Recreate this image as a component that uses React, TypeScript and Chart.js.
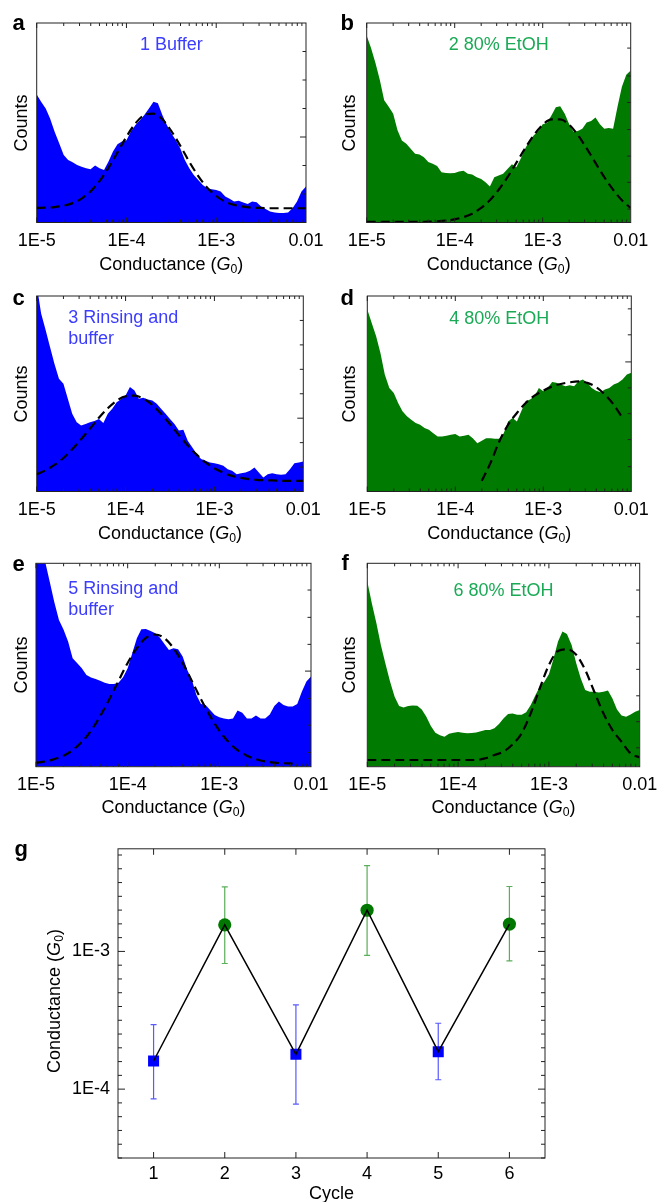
import React, { useEffect, useRef } from 'react';
import { Chart, registerables } from 'chart.js';

Chart.register(...registerables);

const FONT = '"Liberation Sans", Arial, Helvetica, sans-serif';
Chart.defaults.font.family = FONT;
Chart.defaults.color = '#000';

// ---------- DATA ----------
// conductance grid of the histograms (G0)
const histConductance = [
  1.00e-5, 1.12e-5, 1.26e-5, 1.41e-5, 1.58e-5, 1.78e-5, 2.00e-5, 2.24e-5, 2.51e-5, 2.82e-5,
  3.16e-5, 3.55e-5, 3.98e-5, 4.47e-5, 5.01e-5, 5.62e-5, 6.31e-5, 7.08e-5, 7.94e-5, 8.91e-5,
  1.00e-4, 1.12e-4, 1.26e-4, 1.41e-4, 1.58e-4, 1.78e-4, 2.00e-4, 2.24e-4, 2.51e-4, 2.82e-4,
  3.16e-4, 3.55e-4, 3.98e-4, 4.47e-4, 5.01e-4, 5.62e-4, 6.31e-4, 7.08e-4, 7.94e-4, 8.91e-4,
  1.00e-3, 1.12e-3, 1.26e-3, 1.41e-3, 1.58e-3, 1.78e-3, 2.00e-3, 2.24e-3, 2.51e-3, 2.82e-3,
  3.16e-3, 3.55e-3, 3.98e-3, 4.47e-3, 5.01e-3, 5.62e-3, 6.31e-3, 7.08e-3, 7.94e-3, 8.91e-3,
  1.00e-2,
];
// conductance grid of the Gaussian fits (G0)
const fitConductance = [
  1.00e-5, 1.26e-5, 1.58e-5, 2.00e-5, 2.51e-5, 3.16e-5, 3.98e-5, 5.01e-5, 6.31e-5, 7.94e-5,
  1.00e-4, 1.26e-4, 1.58e-4, 2.00e-4, 2.51e-4, 3.16e-4, 3.98e-4, 5.01e-4, 6.31e-4, 7.94e-4,
  1.00e-3, 1.26e-3, 1.58e-3, 2.00e-3, 2.51e-3, 3.16e-3, 3.98e-3, 5.01e-3, 6.31e-3, 7.94e-3,
  1.00e-2,
];

// counts (arbitrary units)
const countsA = [4.49, 4.24, 4.0, 3.65, 3.19, 2.78, 2.37, 2.19, 2.11, 2.02, 1.96, 1.90, 1.87, 2.0, 1.90, 1.84, 2.14, 2.49, 2.75, 2.84, 2.89, 3.19, 3.42, 3.59, 3.77, 4.0, 4.24, 4.18, 3.77, 3.42, 3.13, 2.89, 2.60, 2.19, 1.90, 1.67, 1.49, 1.32, 1.20, 1.17, 1.14, 1.09, 0.91, 0.83, 0.74, 0.76, 0.70, 0.65, 0.74, 0.71, 0.56, 0.47, 0.39, 0.35, 0.33, 0.33, 0.35, 0.50, 0.74, 1.09, 1.26];
const countsB = [6.55, 6.12, 5.59, 5.0, 4.29, 4.06, 3.82, 3.24, 2.88, 2.76, 2.59, 2.41, 2.39, 2.29, 2.12, 2.06, 1.98, 1.76, 1.74, 1.73, 1.74, 1.79, 1.82, 1.71, 1.68, 1.59, 1.53, 1.41, 1.26, 1.59, 1.65, 1.71, 1.88, 2.04, 1.94, 2.24, 2.59, 2.88, 3.06, 3.21, 3.45, 3.49, 3.76, 4.04, 4.08, 3.82, 3.45, 3.18, 3.21, 3.29, 3.51, 3.56, 3.68, 3.45, 3.29, 3.32, 3.29, 4.06, 4.76, 5.18, 5.33];
const countsC = [7.4, 6.38, 5.78, 5.18, 4.58, 4.04, 3.86, 3.32, 2.78, 2.48, 2.36, 2.42, 2.48, 2.52, 2.60, 2.45, 2.78, 2.96, 3.20, 3.30, 3.44, 3.74, 3.62, 3.32, 3.36, 3.29, 3.26, 3.14, 2.96, 2.78, 2.60, 2.42, 2.18, 2.21, 1.82, 1.58, 1.34, 1.16, 1.10, 1.04, 1.01, 0.98, 0.92, 0.80, 0.74, 0.62, 0.65, 0.68, 0.74, 0.86, 0.68, 0.50, 0.62, 0.65, 0.62, 0.60, 0.62, 0.80, 1.01, 1.04, 1.07];
const countsD = [6.52, 6.04, 5.56, 4.96, 4.19, 3.71, 3.53, 3.17, 2.87, 2.69, 2.57, 2.45, 2.39, 2.27, 2.21, 2.09, 1.97, 1.97, 2.0, 2.03, 2.06, 1.97, 2.0, 2.03, 1.91, 1.73, 1.82, 1.91, 1.91, 1.89, 1.89, 2.09, 2.51, 2.63, 2.51, 2.87, 3.23, 3.29, 3.41, 3.71, 3.59, 3.71, 3.92, 3.89, 3.83, 3.77, 3.80, 3.77, 3.95, 4.01, 3.89, 3.71, 3.61, 3.55, 3.65, 3.71, 3.83, 3.89, 4.01, 4.19, 4.25];
const countsE = [7.4, 7.3, 7.05, 6.37, 5.68, 5.05, 4.71, 4.31, 3.73, 3.56, 3.39, 3.16, 3.07, 3.02, 2.96, 2.89, 2.85, 2.85, 2.89, 3.08, 3.39, 3.90, 4.42, 4.73, 4.74, 4.67, 4.59, 4.45, 4.23, 4.02, 4.08, 4.04, 3.79, 3.33, 2.99, 2.47, 2.16, 2.12, 1.95, 1.78, 1.70, 1.66, 1.63, 1.66, 1.93, 1.86, 1.66, 1.66, 1.76, 1.66, 1.66, 1.80, 2.09, 2.24, 2.12, 2.07, 2.07, 2.16, 2.58, 2.93, 3.10];
const countsF = [6.37, 5.63, 4.94, 4.19, 3.56, 2.93, 2.41, 2.09, 2.04, 2.09, 2.11, 2.10, 1.97, 1.72, 1.40, 1.17, 1.08, 1.03, 1.13, 1.17, 1.19, 1.17, 1.15, 1.16, 1.18, 1.22, 1.26, 1.26, 1.32, 1.47, 1.66, 1.81, 1.83, 1.79, 1.79, 1.87, 2.12, 2.45, 2.76, 2.92, 3.18, 3.70, 4.31, 4.65, 4.57, 4.19, 3.56, 3.04, 2.64, 2.58, 2.58, 2.55, 2.58, 2.62, 2.35, 1.97, 1.76, 1.72, 1.80, 1.89, 1.95];

// Gaussian fits (dashed)
const fitA = [0.51, 0.52, 0.54, 0.59, 0.68, 0.84, 1.09, 1.45, 1.92, 2.46, 3.01, 3.48, 3.77, 3.82, 3.62, 3.21, 2.69, 2.13, 1.63, 1.22, 0.93, 0.73, 0.62, 0.56, 0.52, 0.51, 0.50, 0.50, 0.50, 0.50, 0.50];
const fitB = [0.02, 0.02, 0.02, 0.02, 0.02, 0.02, 0.02, 0.03, 0.04, 0.07, 0.11, 0.19, 0.31, 0.51, 0.78, 1.15, 1.59, 2.09, 2.60, 3.07, 3.43, 3.62, 3.62, 3.43, 3.07, 2.60, 2.09, 1.59, 1.15, 0.78, 0.51];
const fitC = [0.62, 0.76, 0.95, 1.20, 1.51, 1.87, 2.25, 2.64, 2.98, 3.25, 3.41, 3.43, 3.33, 3.10, 2.78, 2.41, 2.02, 1.65, 1.32, 1.04, 0.83, 0.67, 0.56, 0.49, 0.44, 0.41, 0.40, 0.39, 0.38, 0.38, 0.38];
const fitD = [null, null, null, null, null, null, null, null, null, null, null, null, null, 0.38, 1.02, 1.79, 2.39, 2.81, 3.17, 3.43, 3.61, 3.76, 3.85, 3.91, 3.94, 3.89, 3.74, 3.47, 3.11, 2.63, null];
const fitE = [0.14, 0.18, 0.26, 0.38, 0.57, 0.85, 1.24, 1.74, 2.32, 2.95, 3.57, 4.08, 4.43, 4.55, 4.43, 4.08, 3.57, 2.95, 2.32, 1.74, 1.24, 0.85, 0.57, 0.38, 0.26, 0.18, 0.14, 0.12, 0.11, null, null];
const fitF = [0.23, 0.23, 0.23, 0.23, 0.23, 0.23, 0.23, 0.23, 0.23, 0.23, 0.23, 0.23, 0.23, 0.29, 0.40, 0.52, 0.77, 1.15, 1.84, 2.70, 3.50, 3.98, 4.04, 3.85, 3.33, 2.58, 1.84, 1.26, 0.86, 0.46, 0.32];

const xTickValues = [1e-5, 1e-4, 1e-3, 1e-2];
const xTickLabels = ['1E-5', '1E-4', '1E-3', '0.01'];

// right-axis tick positions (counts units)
const rightTicksA = [1, 2, 3, 4, 5, 6];
const rightTicksB = [0.47, 1.41, 2.33, 3.26, 4.21, 5.14, 6.12];
const rightTicksC = [0.875, 1.75, 2.625, 3.5, 4.375, 5.25, 6.125];
const rightTicksD = [0.89, 1.86, 2.79, 3.71, 4.64, 5.61, 6.54];
const rightTicksE = [0.49, 1.43, 2.35, 3.29, 4.21, 5.14, 6.08];
const rightTicksF = [0.65, 1.55, 2.44, 3.35, 4.25, 5.16, 6.08];

// panel g
const cycles = [1, 2, 3, 4, 5, 6];
const cycleLabels = ['1', '2', '3', '4', '5', '6'];
const solution = ['buffer', 'EtOH', 'buffer', 'EtOH', 'buffer', 'EtOH'];
const meanConductance = [1.6e-4, 1.56e-3, 1.79e-4, 1.99e-3, 1.87e-4, 1.58e-3];
const upperConductance = [2.94e-4, 2.94e-3, 4.09e-4, 4.2e-3, 3.01e-4, 2.96e-3];
const lowerConductance = [8.5e-5, 8.17e-4, 7.78e-5, 9.36e-4, 1.17e-4, 8.53e-4];
const gTickValues = [1e-4, 1e-3];
const gTickLabels = ['1E-4', '1E-3'];

// ---------- STYLE ----------
const BLUE = '#0000ff';
const GREEN = '#007a00';
const BLUE_TXT = '#3c3cff';
const GREEN_TXT = '#1aaa55';

const pts = (xs: number[], ys: (number | null)[]) => xs.map((x, i) => ({ x, y: ys[i] }));

function histFrame(rightTicks: number[], major: number | null) {
  return {
    id: 'histFrame',
    afterDatasetsDraw(chart: any) {
      const { ctx, chartArea: a, scales } = chart;
      const x = scales.x, y = scales.y;
      ctx.save();
      ctx.strokeStyle = '#222';
      ctx.lineWidth = 1;
      ctx.strokeRect(a.left, a.top, a.right - a.left, a.bottom - a.top);
      ctx.beginPath();
      for (const dec of [1e-5, 1e-4, 1e-3]) {
        for (let m = 1; m <= 9; m++) {
          const px = x.getPixelForValue(m * dec);
          const len = m === 1 ? 5 : 3;
          ctx.moveTo(px, a.top); ctx.lineTo(px, a.top + len);
          ctx.moveTo(px, a.bottom); ctx.lineTo(px, a.bottom - len);
        }
      }
      rightTicks.forEach((v) => {
        const py = y.getPixelForValue(v);
        const len = v === major ? 6 : 3.5;
        ctx.moveTo(a.right, py); ctx.lineTo(a.right - len, py);
      });
      ctx.stroke();
      ctx.restore();
    },
  };
}

type Geo = { left: number; top: number; width: number; height: number; area: { left: number; top: number; right: number; bottom: number } };

function Histogram({ geo, counts, fit, color, rightTicks, major }: { geo: Geo; counts: number[]; fit: (number | null)[]; color: string; rightTicks: number[]; major: number | null }) {
  const ref = useRef<HTMLCanvasElement>(null);
  useEffect(() => {
    const a = geo.area;
    const chart = new Chart(ref.current as HTMLCanvasElement, {
      type: 'line',
      data: {
        datasets: [
          { data: pts(histConductance, counts), fill: 'origin', backgroundColor: color, borderWidth: 0, pointRadius: 0, tension: 0, order: 1 } as any,
          { data: pts(fitConductance, fit), fill: false, borderColor: '#000', borderWidth: 2.2, borderDash: [9, 5], pointRadius: 0, cubicInterpolationMode: 'monotone', spanGaps: false, order: 0 } as any,
        ],
      },
      options: {
        responsive: false,
        maintainAspectRatio: false,
        animation: false,
        devicePixelRatio: 1,
        events: [],
        layout: { padding: { left: a.left - geo.left, top: a.top - geo.top, right: geo.left + geo.width - a.right, bottom: 0 } },
        plugins: { legend: { display: false }, tooltip: { enabled: false } },
        scales: {
          x: {
            type: 'logarithmic',
            min: 1e-5,
            max: 1e-2,
            grid: { display: false, drawTicks: false },
            border: { display: false },
            afterBuildTicks: (s: any) => { s.ticks = xTickValues.map((v) => ({ value: v })); },
            afterFit: (s: any) => { s.height = geo.top + geo.height - a.bottom; },
            ticks: { autoSkip: false, maxRotation: 0, minRotation: 0, padding: 8, font: { size: 18 }, color: '#000', callback: (_v: any, i: number) => xTickLabels[i] },
          },
          y: { type: 'linear', min: 0, max: 7, display: false },
        },
      } as any,
      plugins: [histFrame(rightTicks, major)],
    });
    return () => chart.destroy();
  }, []);
  return <canvas ref={ref} width={geo.width} height={geo.height} style={{ position: 'absolute', left: geo.left, top: geo.top, width: geo.width, height: geo.height }} />;
}

function CycleChart() {
  const ref = useRef<HTMLCanvasElement>(null);
  const geo = { left: 0, top: 830, width: 658, height: 372, area: { left: 118, top: 844, right: 545, bottom: 1158 } };
  useEffect(() => {
    const a = geo.area;
    const isBuffer = solution.map((s) => s === 'buffer');
    const errPlugin = {
      id: 'errbars',
      beforeDatasetsDraw(chart: any) {
        const { ctx, scales } = chart;
        ctx.save();
        ctx.lineWidth = 1.2;
        cycles.forEach((c, i) => {
          const px = scales.x.getPixelForValue(c);
          const yu = scales.y.getPixelForValue(upperConductance[i]);
          const yl = scales.y.getPixelForValue(lowerConductance[i]);
          ctx.strokeStyle = isBuffer[i] ? '#5a5aff' : '#5aae5a';
          ctx.beginPath();
          ctx.moveTo(px, yu); ctx.lineTo(px, yl);
          ctx.moveTo(px - 3, yu); ctx.lineTo(px + 3, yu);
          ctx.moveTo(px - 3, yl); ctx.lineTo(px + 3, yl);
          ctx.stroke();
        });
        ctx.restore();
      },
      afterDatasetsDraw(chart: any) {
        const { ctx, chartArea: ca, scales } = chart;
        ctx.save();
        ctx.strokeStyle = '#222';
        ctx.lineWidth = 1;
        ctx.strokeRect(ca.left, ca.top, ca.right - ca.left, ca.bottom - ca.top);
        ctx.beginPath();
        cycles.forEach((c) => {
          const px = scales.x.getPixelForValue(c);
          ctx.moveTo(px, ca.top); ctx.lineTo(px, ca.top + 6);
          ctx.moveTo(px, ca.bottom); ctx.lineTo(px, ca.bottom - 6);
        });
        for (let k = -45; k <= -23; k++) {
          const py = scales.y.getPixelForValue(Math.pow(10, k / 10));
          const len = k % 10 === 0 ? 7 : 4;
          ctx.moveTo(ca.left, py); ctx.lineTo(ca.left + len, py);
          ctx.moveTo(ca.right, py); ctx.lineTo(ca.right - len, py);
        }
        ctx.stroke();
        ctx.restore();
      },
    };
    const chart = new Chart(ref.current as HTMLCanvasElement, {
      type: 'line',
      data: {
        datasets: [
          { data: pts(cycles, meanConductance), borderColor: '#000', borderWidth: 1.5, pointRadius: 0, fill: false, tension: 0, order: 0 } as any,
          {
            data: pts(cycles, meanConductance),
            showLine: false,
            pointStyle: isBuffer.map((b) => (b ? 'rect' : 'circle')),
            pointRadius: isBuffer.map((b) => (b ? 7.8 : 6.6)),
            pointBackgroundColor: isBuffer.map((b) => (b ? BLUE : '#007700')),
            pointBorderWidth: 0,
            order: 1,
          } as any,
        ],
      },
      options: {
        responsive: false,
        maintainAspectRatio: false,
        animation: false,
        devicePixelRatio: 1,
        events: [],
        layout: { padding: { left: 0, top: a.top - geo.top, right: geo.left + geo.width - a.right, bottom: 0 } },
        plugins: { legend: { display: false }, tooltip: { enabled: false } },
        scales: {
          x: {
            type: 'linear',
            min: 0.5,
            max: 6.5,
            grid: { display: false, drawTicks: false },
            border: { display: false },
            afterBuildTicks: (s: any) => { s.ticks = cycles.map((v) => ({ value: v })); },
            afterFit: (s: any) => { s.height = geo.top + geo.height - a.bottom; },
            ticks: { autoSkip: false, maxRotation: 0, padding: 5, font: { size: 18 }, color: '#000', callback: (_v: any, i: number) => cycleLabels[i] },
          },
          y: {
            type: 'logarithmic',
            min: 3.162e-5,
            max: 5.56e-3,
            grid: { display: false, drawTicks: false },
            border: { display: false },
            afterBuildTicks: (s: any) => { s.ticks = gTickValues.map((v) => ({ value: v })); },
            afterFit: (s: any) => { s.width = a.left - geo.left; },
            ticks: { autoSkip: false, padding: 8, font: { size: 18 }, color: '#000', callback: (_v: any, i: number) => gTickLabels[i] },
          },
        },
      } as any,
      plugins: [errPlugin],
    });
    return () => chart.destroy();
  }, []);
  return <canvas ref={ref} width={geo.width} height={geo.height} style={{ position: 'absolute', left: geo.left, top: geo.top, width: geo.width, height: geo.height }} />;
}

function Txt({ x, base, size = 18, color = '#000', bold = false, center = false, children }: any) {
  return (
    <div style={{ position: 'absolute', left: x, top: base - 0.8465 * size, fontSize: size, lineHeight: `${size}px`, fontFamily: FONT, fontWeight: bold ? 700 : 400, color, whiteSpace: 'nowrap', transform: center ? 'translateX(-50%)' : undefined }}>
      {children}
    </div>
  );
}

function VTxt({ cx, cy, size = 18, children }: any) {
  return (
    <div style={{ position: 'absolute', left: cx, top: cy, fontSize: size, lineHeight: `${size}px`, fontFamily: FONT, color: '#000', whiteSpace: 'nowrap', transform: 'translate(-50%, -50%) rotate(-90deg)' }}>
      {children}
    </div>
  );
}

const GTitle = () => (
  <>
    Conductance (<i>G</i>
    <span style={{ fontSize: '0.68em', position: 'relative', top: '0.25em' }}>0</span>)
  </>
);

const panels = [
  { key: 'a', geo: { left: 0, top: 0, width: 345, height: 262, area: { left: 36.7, top: 23, right: 306, bottom: 222.5 } }, counts: countsA, fit: fitA, color: BLUE, rightTicks: rightTicksA, major: 3 },
  { key: 'b', geo: { left: 329, top: 0, width: 345, height: 262, area: { left: 366.7, top: 23, right: 630.7, bottom: 222.5 } }, counts: countsB, fit: fitB, color: GREEN, rightTicks: rightTicksB, major: null },
  { key: 'c', geo: { left: 0, top: 268, width: 345, height: 262, area: { left: 36.7, top: 296, right: 303.3, bottom: 491.5 } }, counts: countsC, fit: fitC, color: BLUE, rightTicks: rightTicksC, major: 2.625 },
  { key: 'd', geo: { left: 329, top: 268, width: 345, height: 262, area: { left: 367.3, top: 296, right: 631.3, bottom: 491.5 } }, counts: countsD, fit: fitD, color: GREEN, rightTicks: rightTicksD, major: 4.64 },
  { key: 'e', geo: { left: 0, top: 538, width: 345, height: 262, area: { left: 36, top: 563.3, right: 311, bottom: 766.7 } }, counts: countsE, fit: fitE, color: BLUE, rightTicks: rightTicksE, major: 3.29 },
  { key: 'f', geo: { left: 329, top: 538, width: 345, height: 262, area: { left: 367.3, top: 563.3, right: 639.7, bottom: 766.7 } }, counts: countsF, fit: fitF, color: GREEN, rightTicks: rightTicksF, major: null },
];

export default function App() {
  return (
    <div style={{ position: 'absolute', left: 0, top: 0, width: 658, height: 1202, overflow: 'hidden', background: '#fff' }}>
      {panels.map((p) => (
        <Histogram key={p.key} geo={p.geo} counts={p.counts} fit={p.fit as any} color={p.color} rightTicks={p.rightTicks} major={p.major} />
      ))}
      <CycleChart />

      {/* panel letters */}
      <Txt x={12.5} base={30.5} size={22} bold>a</Txt>
      <Txt x={340.5} base={30.5} size={22} bold>b</Txt>
      <Txt x={12.5} base={306} size={22} bold>c</Txt>
      <Txt x={340.5} base={306} size={22} bold>d</Txt>
      <Txt x={12.5} base={571.5} size={22} bold>e</Txt>
      <Txt x={341.5} base={571} size={22} bold>f</Txt>
      <Txt x={14.5} base={856.5} size={22} bold>g</Txt>

      {/* annotations */}
      <Txt x={171.3} base={50.7} color={BLUE_TXT} center>1 Buffer</Txt>
      <Txt x={498.7} base={50.7} color={GREEN_TXT} center>2 80% EtOH</Txt>
      <Txt x={68.3} base={323.3} color={BLUE_TXT}>3 Rinsing and</Txt>
      <Txt x={68.3} base={344.3} color={BLUE_TXT}>buffer</Txt>
      <Txt x={499.3} base={324.3} color={GREEN_TXT} center>4 80% EtOH</Txt>
      <Txt x={68.3} base={594} color={BLUE_TXT}>5 Rinsing and</Txt>
      <Txt x={68.3} base={615} color={BLUE_TXT}>buffer</Txt>
      <Txt x={503.5} base={596.7} color={GREEN_TXT} center>6 80% EtOH</Txt>

      {/* x-axis titles */}
      <Txt x={171.3} base={270} center><GTitle /></Txt>
      <Txt x={498.7} base={270} center><GTitle /></Txt>
      <Txt x={170} base={539.3} center><GTitle /></Txt>
      <Txt x={499.3} base={539.3} center><GTitle /></Txt>
      <Txt x={173.5} base={813.3} center><GTitle /></Txt>
      <Txt x={503.5} base={813.3} center><GTitle /></Txt>

      {/* y-axis titles */}
      <VTxt cx={20.5} cy={122.7}>Counts</VTxt>
      <VTxt cx={348.5} cy={122.7}>Counts</VTxt>
      <VTxt cx={20.5} cy={393.7}>Counts</VTxt>
      <VTxt cx={348.5} cy={393.7}>Counts</VTxt>
      <VTxt cx={20.5} cy={665}>Counts</VTxt>
      <VTxt cx={348.5} cy={665}>Counts</VTxt>

      {/* panel g titles */}
      <VTxt cx={55} cy={1001}><GTitle /></VTxt>
      <Txt x={331.5} base={1199} center>Cycle</Txt>
    </div>
  );
}
